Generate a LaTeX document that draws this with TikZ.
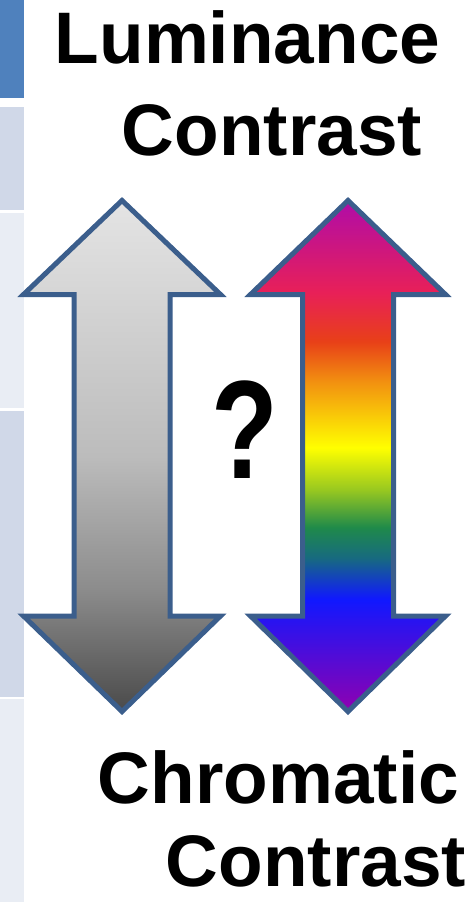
\documentclass[tikz,border=0pt]{standalone}
\usepackage{fontspec}
\setmainfont{Liberation Sans}
\usetikzlibrary{positioning}

\definecolor{cellhead}{HTML}{4F81BD}
\definecolor{celldark}{HTML}{D0D8E8}
\definecolor{celllight}{HTML}{E9EDF4}
\definecolor{arrowline}{RGB}{59,94,140}

\definecolor{gtop}{HTML}{E4E4E4}
\definecolor{gmid}{HTML}{BCBCBC}
\definecolor{glow}{HTML}{8C8C8C}
\definecolor{gend}{HTML}{4A4A4A}
\pgfdeclareverticalshading{greyfade}{100bp}{color(0bp)=(gend); color(25bp)=(gend);
  color(37bp)=(glow); color(50bp)=(gmid); color(75bp)=(gtop); color(100bp)=(gtop)}

\definecolor{rbviolet}{HTML}{9000B0}
\definecolor{rbblue}{HTML}{1018FF}
\definecolor{rbteal}{HTML}{176A80}
\definecolor{rbgreen}{HTML}{1F8A4A}
\definecolor{rblime}{HTML}{98C820}
\definecolor{rbyellow}{HTML}{FFFF00}
\definecolor{rborange}{HTML}{F29010}
\definecolor{rbred}{HTML}{E84018}
\definecolor{rbrose}{HTML}{E82058}
\definecolor{rbpurple}{HTML}{B00CA8}
\pgfdeclareverticalshading{rainbow}{100bp}{color(0bp)=(rbviolet); color(25bp)=(rbviolet);
  color(36bp)=(rbblue); color(40bp)=(rbteal); color(43bp)=(rbgreen); color(46.7bp)=(rblime);
  color(50.8bp)=(rbyellow); color(57.3bp)=(rborange); color(61.2bp)=(rbred);
  color(66bp)=(rbrose); color(75bp)=(rbpurple); color(100bp)=(rbpurple)}

\begin{document}
\begin{tikzpicture}[x=1pt, y=-1pt,
    bigarrow/.style={draw=arrowline, line width=5pt},
    bigword/.style={font=\fontsize{73}{88}\selectfont\bfseries, inner sep=0pt, anchor=base}]
    \useasboundingbox (0,0) rectangle (472,902);

    \fill[cellhead](0,0)rectangle(24,98);
    \fill[celldark](0,107)rectangle(24,210);
    \fill[celllight](0,213)rectangle(24,408);
    \fill[celldark](0,411)rectangle(24,697);
    \fill[celllight](0,699)rectangle(24,902);

    \foreach \cx/\hw/\sw/\shd in {122/98.5/48/greyfade, 348/97.5/45.5/rainbow}{
        \path[bigarrow, shading=\shd](\cx,200.5)--(\cx+\hw,294.5)--(\cx+\sw,294.5)--(\cx+\sw,616)
            --(\cx+\hw,616)--(\cx,711.5)--(\cx-\hw,616)--(\cx-\sw,616)--(\cx-\sw,294.5)--(\cx-\hw,294.5)--cycle;
    }

    \node[bigword](lumword)at(247.5,63){Luminance};
    \node[bigword](topcontrast)at(272,155){Contrast};
    \node[bigword](chromword)at(278.5,803){Chromatic};
    \node[bigword](botcontrast)at(316,886){Contrast};
    \node[font=\fontsize{140}{140}\selectfont\bfseries, inner sep=0pt, anchor=base](query)at(245,478){\scalebox{0.78}[1]{?}};
\end{tikzpicture}
\end{document}
